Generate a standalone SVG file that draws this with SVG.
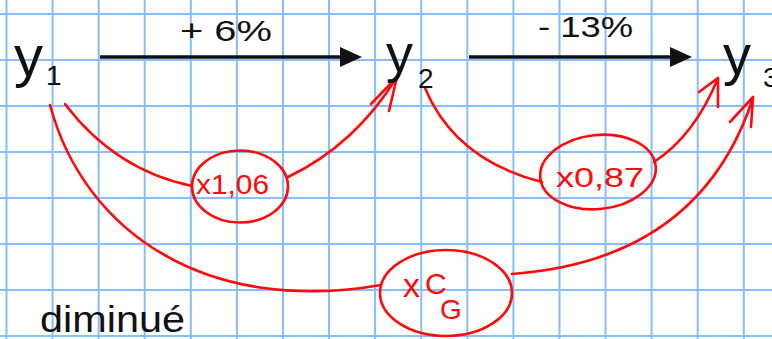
<svg xmlns="http://www.w3.org/2000/svg" width="772" height="339" viewBox="0 0 772 339">
<defs>
<style>
.grid line{stroke:#86bdfc;stroke-width:2}
.blk{font-family:"Liberation Sans","DejaVu Sans",sans-serif;fill:#111}
.red{font-family:"Liberation Sans","DejaVu Sans",sans-serif;fill:#ff0a0a}
.rs{fill:none;stroke:#ff0a0a;stroke-width:2.6;stroke-linecap:round;stroke-linejoin:round}
.bl{stroke:#111;stroke-width:3.4;fill:none}
</style>
<marker id="ah" markerUnits="userSpaceOnUse" viewBox="0 0 22 20" refX="5" refY="10" markerWidth="22" markerHeight="20" orient="auto">
<path d="M0,0 L22,10 L0,20 z" fill="#111"/>
</marker>
</defs>
<rect width="772" height="339" fill="#fff"/>
<g class="grid">
<line x1="6.5" y1="0" x2="6.5" y2="339"/>
<line x1="52.6" y1="0" x2="52.6" y2="339"/>
<line x1="98.7" y1="0" x2="98.7" y2="339"/>
<line x1="144.7" y1="0" x2="144.7" y2="339"/>
<line x1="190.8" y1="0" x2="190.8" y2="339"/>
<line x1="236.9" y1="0" x2="236.9" y2="339"/>
<line x1="283" y1="0" x2="283" y2="339"/>
<line x1="329" y1="0" x2="329" y2="339"/>
<line x1="375.1" y1="0" x2="375.1" y2="339"/>
<line x1="421.2" y1="0" x2="421.2" y2="339"/>
<line x1="467.3" y1="0" x2="467.3" y2="339"/>
<line x1="513.4" y1="0" x2="513.4" y2="339"/>
<line x1="559.5" y1="0" x2="559.5" y2="339"/>
<line x1="605.5" y1="0" x2="605.5" y2="339"/>
<line x1="651.6" y1="0" x2="651.6" y2="339"/>
<line x1="697.7" y1="0" x2="697.7" y2="339"/>
<line x1="743.8" y1="0" x2="743.8" y2="339"/>
<line x1="0" y1="14" x2="772" y2="14"/>
<line x1="0" y1="60" x2="772" y2="60"/>
<line x1="0" y1="106" x2="772" y2="106"/>
<line x1="0" y1="152" x2="772" y2="152"/>
<line x1="0" y1="198" x2="772" y2="198"/>
<line x1="0" y1="244" x2="772" y2="244"/>
<line x1="0" y1="290" x2="772" y2="290"/>
<line x1="0" y1="336" x2="772" y2="336"/>
</g>
<g id="connectors">
<line class="bl" x1="100" y1="57" x2="345" y2="57" marker-end="url(#ah)"/>
<line class="bl" x1="469" y1="57" x2="675" y2="57" marker-end="url(#ah)"/>
<text class="blk" x="180" y="41" font-size="29" textLength="92" lengthAdjust="spacingAndGlyphs">+ 6%</text>
<text class="blk" x="538" y="37" font-size="30" textLength="95" lengthAdjust="spacingAndGlyphs">- 13%</text>
<path class="rs" d="M65,104 Q115,170 192,186"/>
<path class="rs" d="M288,177 Q355,145 397,77"/>
<path class="rs" d="M371,104 L397,77 L389,111"/>
<path class="rs" d="M425,88 Q455,160 542,182"/>
<path class="rs" d="M654,162 Q695,135 718,78"/>
<path class="rs" d="M699,92 L718,78 L718,107"/>
<path class="rs" d="M50,105 C85,235 210,315 381,285"/>
<path class="rs" d="M512,274 Q700,260 753,98"/>
<path class="rs" d="M730,122 L753,97 L751,127"/>
</g>
<g id="y1">
<text class="blk" x="14" y="76" font-size="58">y</text>
<text class="blk" x="46" y="85" font-size="28">1</text>
</g>
<g id="y2">
<text class="blk" x="386" y="72" font-size="54">y</text>
<text class="blk" x="418" y="88" font-size="28">2</text>
</g>
<g id="y3">
<text class="blk" x="723" y="74" font-size="56">y</text>
<text class="blk" x="763" y="87" font-size="28">3</text>
</g>
<g id="m1">
<ellipse class="rs" cx="240" cy="186.5" rx="48" ry="36"/>
<text class="red" x="196" y="194" font-size="27" textLength="73" lengthAdjust="spacingAndGlyphs">x1,06</text>
</g>
<g id="m2">
<ellipse class="rs" cx="598" cy="172" rx="58" ry="37" transform="rotate(-6 598 172)"/>
<text class="red" x="556" y="187" font-size="28" textLength="88" lengthAdjust="spacingAndGlyphs">x0,87</text>
</g>
<g id="m3">
<ellipse class="rs" cx="446" cy="293" rx="66" ry="43"/>
<text class="red" x="403" y="297" font-size="34">x</text>
<text class="red" x="425" y="294" font-size="30">C</text>
<text class="red" x="440" y="319" font-size="28">G</text>
</g>
<text class="blk" x="40" y="332" font-size="36" textLength="145" lengthAdjust="spacingAndGlyphs">diminué</text>
</svg>
